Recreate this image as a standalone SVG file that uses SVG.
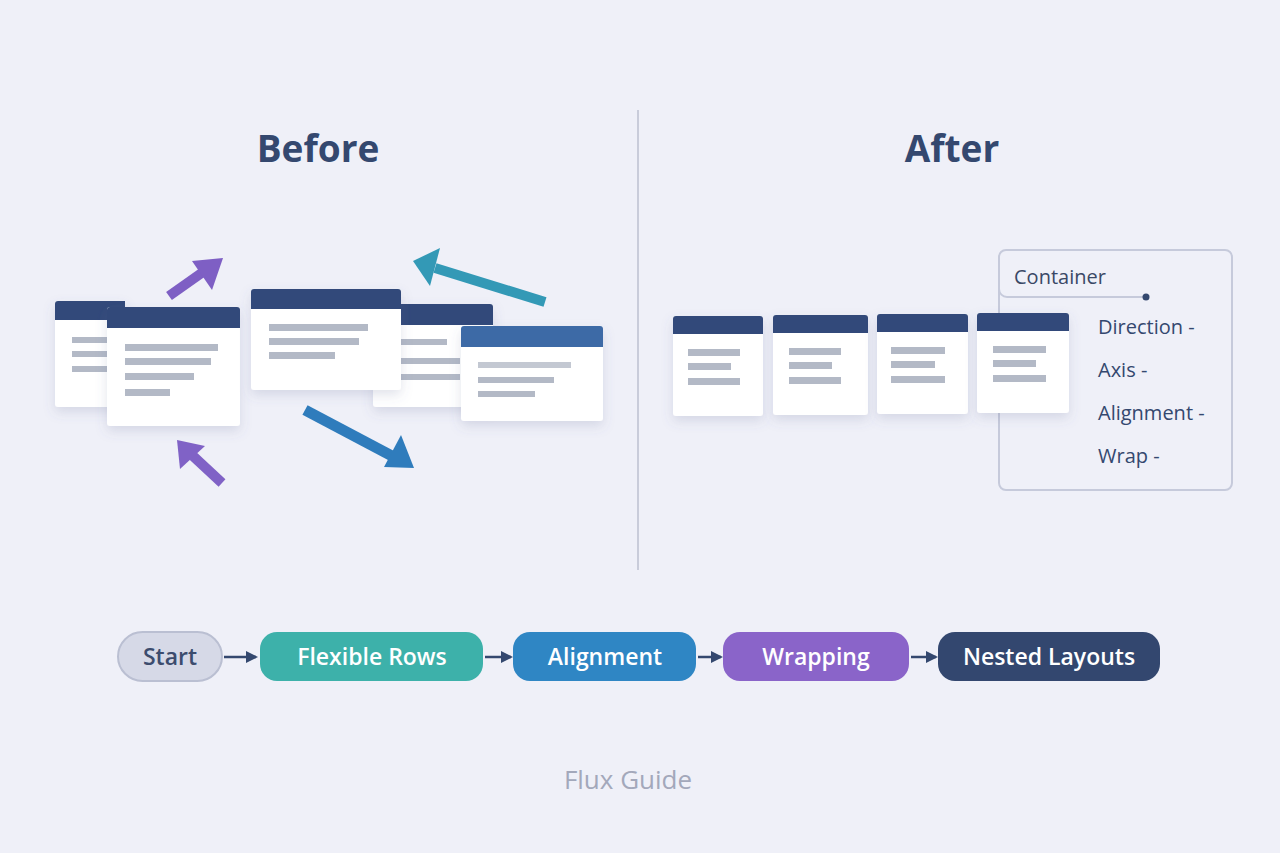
<svg xmlns="http://www.w3.org/2000/svg" width="1280" height="853" viewBox="0 0 1280 853">
<defs>
<filter id="sh" x="-20%" y="-20%" width="140%" height="150%"><feDropShadow dx="0" dy="5" stdDeviation="6" flood-color="#5a6890" flood-opacity="0.18"/></filter>
<style>
.t{font-family:"Open Sans","Noto Sans","Liberation Sans",sans-serif}
.title{font-size:37px;font-weight:700;fill:#34486f;text-anchor:middle}
.card{fill:#ffffff}
.hd{fill:#33497a}
.ln{fill:#b3b9c6}
.lbl{font-size:20px;fill:#34486f}
.pill{font-size:23px;font-weight:600;fill:#ffffff;text-anchor:middle}
.fa{stroke:#34486f;stroke-width:2.5;fill:none}
</style>
<marker id="ah" markerWidth="12" markerHeight="12" refX="10" refY="6" orient="auto" markerUnits="userSpaceOnUse"><path d="M0,0 L12,6 L0,12 Z" fill="#34486f"/></marker>
</defs>
<rect width="1280" height="853" fill="#eff0f8"/>

<text class="t title" x="318" y="162">Before</text>
<text class="t title" x="952" y="162">After</text>
<line x1="638" y1="110" x2="638" y2="570" stroke="#c9ccda" stroke-width="2"/>

<!-- Before cards -->
<g id="before-card-a" filter="url(#sh)">
<rect class="card" x="55" y="301" width="70" height="106" rx="3"/>
<path class="hd" d="M58,301 H125 V320 H55 V304 A3,3 0 0 1 58,301 Z"/>
<rect class="ln" x="72" y="337" width="45" height="6"/>
<rect class="ln" x="72" y="351" width="45" height="6"/>
<rect class="ln" x="72" y="366" width="45" height="6"/>
</g>
<g id="before-card-d" filter="url(#sh)">
<rect class="card" x="373" y="304" width="120" height="103" rx="3"/>
<path class="hd" d="M376,304 H490 A3,3 0 0 1 493,307 V325 H373 V307 A3,3 0 0 1 376,304 Z"/>
<rect class="ln" x="400" y="339" width="47" height="6"/>
<rect class="ln" x="400" y="358" width="60" height="6"/>
<rect class="ln" x="400" y="374" width="60" height="6"/>
</g>
<g id="before-card-b" filter="url(#sh)">
<rect class="card" x="107" y="307" width="133" height="119" rx="3"/>
<path class="hd" d="M110,307 H237 A3,3 0 0 1 240,310 V328 H107 V310 A3,3 0 0 1 110,307 Z"/>
<rect class="ln" x="125" y="344" width="93" height="7"/>
<rect class="ln" x="125" y="358" width="86" height="7"/>
<rect class="ln" x="125" y="373" width="69" height="7"/>
<rect class="ln" x="125" y="389" width="45" height="7"/>
</g>
<g id="before-card-c" filter="url(#sh)">
<rect class="card" x="251" y="289" width="150" height="101" rx="3"/>
<path class="hd" d="M254,289 H398 A3,3 0 0 1 401,292 V309 H251 V292 A3,3 0 0 1 254,289 Z"/>
<rect class="ln" x="269" y="324" width="99" height="7"/>
<rect class="ln" x="269" y="338" width="90" height="7"/>
<rect class="ln" x="269" y="352" width="66" height="7"/>
</g>
<g id="before-card-e" filter="url(#sh)">
<rect class="card" x="461" y="326" width="142" height="95" rx="3"/>
<path d="M464,326 H600 A3,3 0 0 1 603,329 V347 H461 V329 A3,3 0 0 1 464,326 Z" fill="#3d6aa6"/>
<rect x="478" y="362" width="93" height="6" fill="#c3c8d2"/>
<rect class="ln" x="478" y="377" width="76" height="6"/>
<rect class="ln" x="478" y="391" width="57" height="6"/>
</g>

<!-- Before arrows -->
<g id="before-arrows">
<line x1="169" y1="296" x2="203" y2="272" stroke="#7e5fc4" stroke-width="10"/>
<polygon points="223,258 192,261 212,290" fill="#7e5fc4"/>
<line x1="545" y1="302" x2="435" y2="268" stroke="#3399b6" stroke-width="10"/>
<polygon points="413,261 440,248 430,286" fill="#3399b6"/>
<line x1="305" y1="410" x2="392" y2="456" stroke="#2f7cbc" stroke-width="11"/>
<polygon points="414,468 401,435 384,467" fill="#2f7cbc"/>
<line x1="222" y1="483" x2="193" y2="456" stroke="#8062c6" stroke-width="10"/>
<polygon points="177,440 180,469 205,446" fill="#8062c6"/>
</g>

<!-- After container -->
<g id="container">
<rect x="999" y="250" width="233" height="240" rx="7" fill="none" stroke="#c6cadb" stroke-width="2"/>
<path d="M999,289 A8,8 0 0 0 1007,297 H1146" fill="none" stroke="#c6cadb" stroke-width="2"/>
<circle cx="1146" cy="297" r="3.5" fill="#34486f"/>
<text class="t" x="1014" y="284" font-size="20" fill="#3a4866">Container</text>
<text class="t lbl" x="1098" y="334">Direction -</text>
<text class="t lbl" x="1098" y="377">Axis -</text>
<text class="t lbl" x="1098" y="420">Alignment -</text>
<text class="t lbl" x="1098" y="463">Wrap -</text>
</g>

<!-- After cards -->
<g id="after-card-1" filter="url(#sh)">
<rect class="card" x="673" y="316" width="90" height="100" rx="3"/>
<path class="hd" d="M676,316 H760 A3,3 0 0 1 763,319 V334 H673 V319 A3,3 0 0 1 676,316 Z"/>
<rect class="ln" x="688" y="349" width="52" height="7"/>
<rect class="ln" x="688" y="363" width="43" height="7"/>
<rect class="ln" x="688" y="378" width="52" height="7"/>
</g>
<g id="after-card-2" filter="url(#sh)">
<rect class="card" x="773" y="315" width="95" height="100" rx="3"/>
<path class="hd" d="M776,315 H865 A3,3 0 0 1 868,318 V333 H773 V318 A3,3 0 0 1 776,315 Z"/>
<rect class="ln" x="789" y="348" width="52" height="7"/>
<rect class="ln" x="789" y="362" width="43" height="7"/>
<rect class="ln" x="789" y="377" width="52" height="7"/>
</g>
<g id="after-card-3" filter="url(#sh)">
<rect class="card" x="877" y="314" width="91" height="100" rx="3"/>
<path class="hd" d="M880,314 H965 A3,3 0 0 1 968,317 V332 H877 V317 A3,3 0 0 1 880,314 Z"/>
<rect class="ln" x="891" y="347" width="54" height="7"/>
<rect class="ln" x="891" y="361" width="44" height="7"/>
<rect class="ln" x="891" y="376" width="54" height="7"/>
</g>
<g id="after-card-4" filter="url(#sh)">
<rect class="card" x="977" y="313" width="92" height="100" rx="3"/>
<path class="hd" d="M980,313 H1066 A3,3 0 0 1 1069,316 V331 H977 V316 A3,3 0 0 1 980,313 Z"/>
<rect class="ln" x="993" y="346" width="53" height="7"/>
<rect class="ln" x="993" y="360" width="43" height="7"/>
<rect class="ln" x="993" y="375" width="53" height="7"/>
</g>

<!-- Flow -->
<g id="connectors">
<line class="fa" x1="224" y1="657" x2="256" y2="657" marker-end="url(#ah)"/>
<line class="fa" x1="485" y1="657" x2="511" y2="657" marker-end="url(#ah)"/>
<line class="fa" x1="698" y1="657" x2="721" y2="657" marker-end="url(#ah)"/>
<line class="fa" x1="911" y1="657" x2="936" y2="657" marker-end="url(#ah)"/>
</g>
<g id="node-start">
<rect x="118" y="632" width="104" height="49" rx="24.5" fill="#d6d9e7" stroke="#babfd2" stroke-width="2"/>
<text class="t pill" x="170" y="665" style="fill:#3c4c6e">Start</text>
</g>
<g id="node-flexible-rows">
<rect x="260" y="632" width="223" height="49" rx="17" fill="#3db1aa"/>
<text class="t pill" x="372" y="665">Flexible Rows</text>
</g>
<g id="node-alignment">
<rect x="513" y="632" width="183" height="49" rx="17" fill="#2f86c4"/>
<text class="t pill" x="605" y="665">Alignment</text>
</g>
<g id="node-wrapping">
<rect x="723" y="632" width="186" height="49" rx="17" fill="#8a64c9"/>
<text class="t pill" x="816" y="665">Wrapping</text>
</g>
<g id="node-nested-layouts">
<rect x="938" y="632" width="222" height="49" rx="17" fill="#33476f"/>
<text class="t pill" x="1049" y="665">Nested Layouts</text>
</g>

<text class="t" x="628" y="789" font-size="26" fill="#a3a8bb" text-anchor="middle">Flux Guide</text>
</svg>
